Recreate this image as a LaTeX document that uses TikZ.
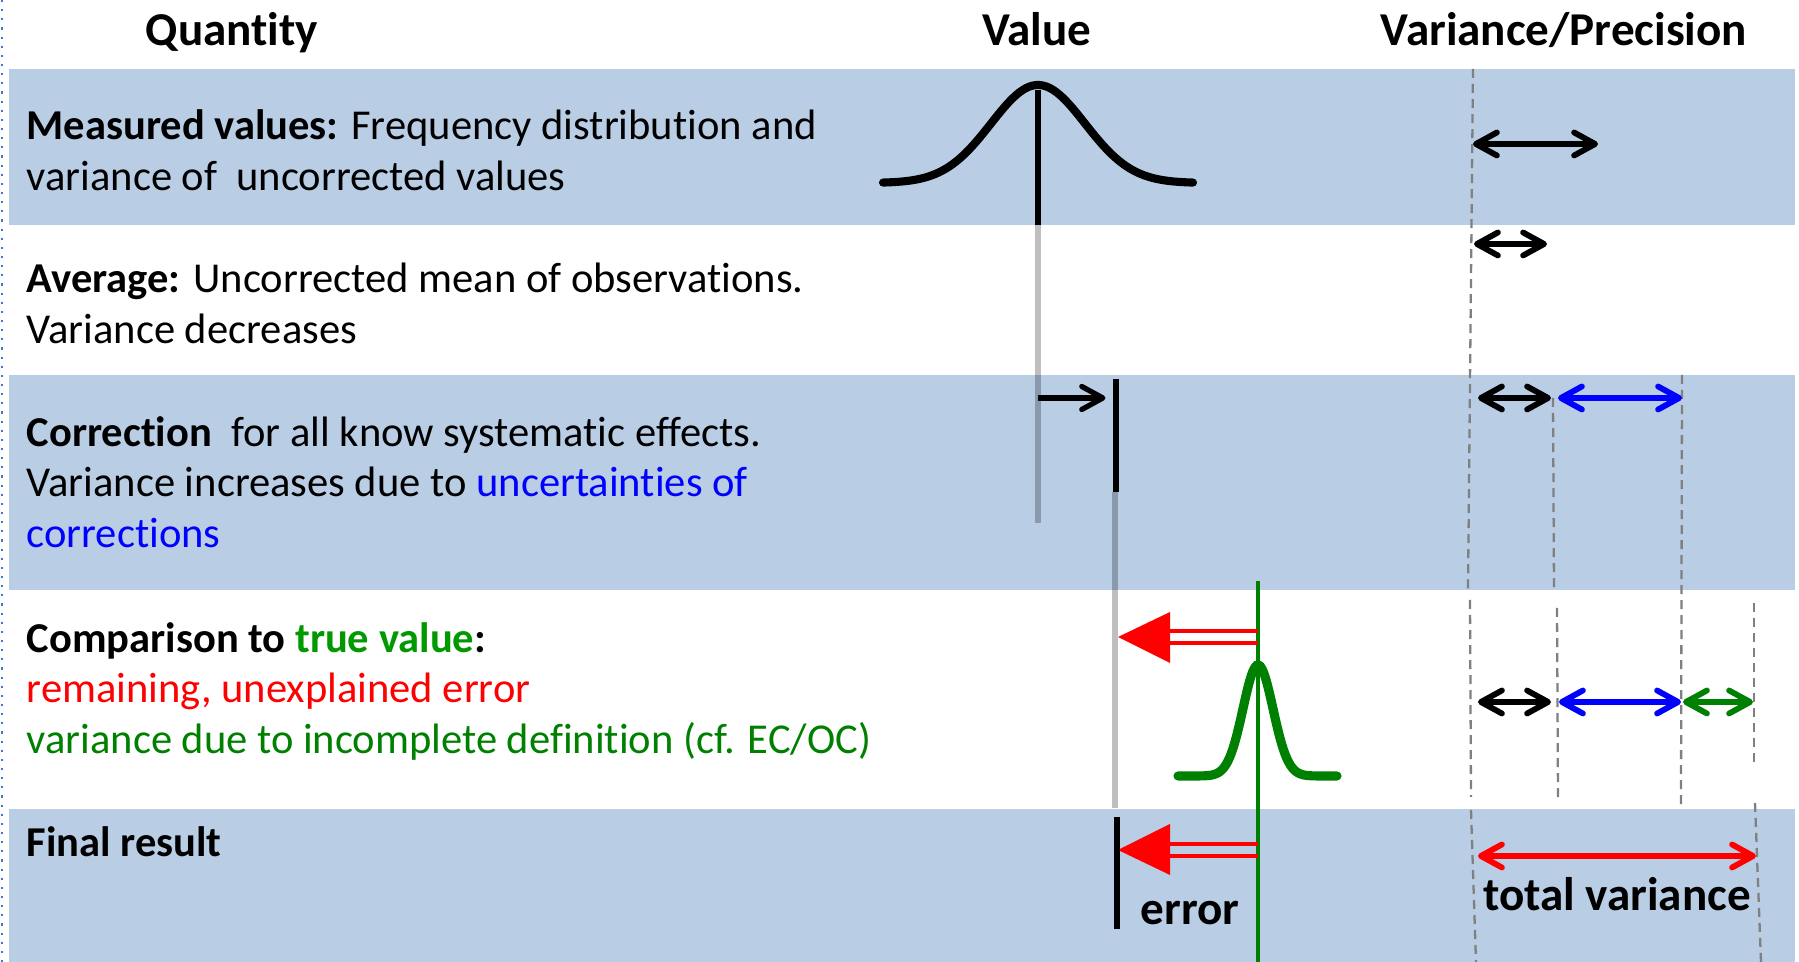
\documentclass[tikz,border=0pt]{standalone}
\usepackage{fontspec}
\setmainfont{Carlito}[Ligatures=NoCommon]
\usepackage{xcolor}
\usepackage{tikz}
\usetikzlibrary{arrows.meta}
\definecolor{bandblue}{HTML}{B9CDE5}
\definecolor{truegreen}{HTML}{009900}
\definecolor{defgreen}{HTML}{008000}
\definecolor{slideedge}{HTML}{3C7BC8}

\tikzset{
  band/.style={fill=bandblue, draw=none},
  rowtext/.style={anchor=base west, align=left, inner sep=0pt,
    font=\fontsize{12.1}{14.5}\selectfont},
  headtext/.style={anchor=base, inner sep=0pt,
    font=\fontsize{13.4}{16}\selectfont\bfseries},
  guide/.style={gray, line width=0.65pt, dash pattern=on 0.9mm off 0.6mm},
  barb/.tip={Straight Barb[length=2.1mm, width=2.3mm, round]},
  spread/.style={barb-barb, line width=1.65pt},
  corrarrow/.style={-barb, line width=1.5pt},
  trace/.style={black, opacity=0.25, line width=1.5pt},
  errshaft/.style={red, line width=1.1pt},
}

\begin{document}
\begin{tikzpicture}[x=0.01cm, y=-0.01cm]
      \useasboundingbox (0,0) rectangle (1799,962);
      % slide edge
      \draw[slideedge, dotted, line width=0.6pt] (2,0) -- (2,962);
      % Shaded rows
      \fill[band] (9,69) rectangle (1795,225);
      \fill[band] (9,375) rectangle (1795,590);
      \fill[band] (9,809) rectangle (1795,962);
      % Column headings
      \node[headtext] (hquant) at (232,46) {Quantity};
      \node[headtext] (hval) at (1037,46) {Value};
      \node[headtext] (hvar) at (1564,46) {Variance/Precision};
      % Row descriptions (placed by the baseline of their last line)
      \node[rowtext] (measured) at (26,191)
        {\textbf{Measured values:} Frequency distribution and\\variance of~ uncorrected values};
      \node[rowtext] (average) at (26,344)
        {\textbf{Average:} Uncorrected mean of observations.\\Variance decreases};
      \node[rowtext] (correction) at (26,548)
        {\textbf{Correction}~ for all know systematic effects.\\Variance increases due to \textcolor{blue}{uncertainties of}\\\textcolor{blue}{corrections}};
      \node[rowtext] (comparison) at (26,754)
        {\textbf{Comparison to \textcolor{truegreen}{true value}:}\\\textcolor{red}{remaining, unexplained error}\\\textcolor{defgreen}{variance due to incomplete definition (cf. EC/OC)}};
      \node[rowtext] (final) at (26,857) {\textbf{Final result}};

      % Value column: measured distribution and its mean
      \pgfmathsetmacro{\meanx}{1038}
      \draw[line width=2.3pt, line cap=round]
        plot[domain=-155:155, samples=90] ({\meanx+\x},{183-98*exp(-((\x/47)^2)/2)});
      \draw[line width=1.5pt] (\meanx,90) -- (\meanx,225);
      \draw[trace] (\meanx,225) -- (\meanx,523);
      % correction shift
      \coordinate (corr) at (1116,398);
      \draw[corrarrow] (\meanx,398) -- ([xshift=-3]corr);
      \draw[line width=1.6pt] (1116,379) -- (1116,492);
      \draw[trace] (1115,492) -- (1115,808);
      % true value and its narrow distribution
      \pgfmathsetmacro{\truex}{1258}
      \draw[defgreen, line width=1.3pt] (\truex,581) -- (\truex,962);
      \draw[defgreen, line width=2.6pt, line cap=round]
        plot[domain=-80:79, samples=90] ({\truex+\x},{776-111*exp(-((\x/15)^2)/2)});
      % remaining error, comparison row
      \draw[errshaft] (\truex,631) -- (1165,631);
      \draw[errshaft] (\truex,643) -- (1165,643);
      \fill[red] (1118,637) -- (1170,612) -- (1170,663) -- cycle;
      % remaining error, final row
      \draw[errshaft] (\truex,844) -- (1165,844);
      \draw[errshaft] (\truex,856) -- (1165,856);
      \fill[red] (1118,850) -- (1170,824) -- (1170,875) -- cycle;
      \draw[line width=1.5pt] (1117,817) -- (1117,929);
      \node[headtext] (error) at (1190,925) {error};

      % Variance column: guide lines
      \draw[guide] (1473,69) -- (1468,590);
      \draw[guide] (1470,600) -- (1471,797);
      \draw[guide] (1471,810) -- (1476,962);
      \draw[guide] (1553,398) -- (1554,590);
      \draw[guide] (1557,608) -- (1558,798);
      \draw[guide] (1682,375) -- (1681,805);
      \draw[guide] (1754,603) -- (1754,762);
      \draw[guide] (1755,803) -- (1761,962);
      % variance contributions
      \draw[spread] (1473,144) -- (1598,144);
      \draw[spread] (1474,244) -- (1547,244);
      \draw[spread] (1478,398) -- (1551,398);
      \draw[spread, blue] (1558,398) -- (1682,398);
      \draw[spread] (1478,702) -- (1551,702);
      \draw[spread, blue] (1559,702) -- (1681,702);
      \draw[spread, defgreen] (1683,702) -- (1753,702);
      \draw[spread, red] (1478,856) -- (1756,856);
      \node[headtext] (total) at (1617,911) {total variance};
    \end{tikzpicture}
\end{document}
